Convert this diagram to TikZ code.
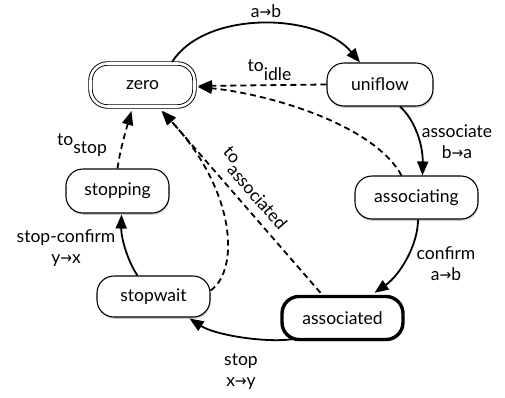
\documentclass[tikz,border=0pt]{standalone}
\usepackage{fontspec}
\setmainfont{Lato}
\newfontfamily\dvfont{DejaVu Sans}
\usetikzlibrary{arrows.meta,shadows,calc}
\newcommand\rarr{{\dvfont\scalebox{0.8}[0.9]{→}}}
\newcommand\lowsub[2]{#1\raisebox{-0.5em}{#2}}
\tikzset{
  st/.style={draw, line width=1.1pt, rounded corners=17pt, fill=white,
    minimum height=43pt, inner sep=0pt, font=\fontsize{17.5}{20}\selectfont,
    drop shadow={shadow xshift=0.6pt, shadow yshift=-1.8pt, opacity=0.35, fill=black!60}},
  lbl/.style={font=\fontsize{17.5}{21}\selectfont, inner sep=0pt, align=center},
  sol/.style={line width=1.8pt, -{Triangle[length=14pt,width=11pt]}},
  dsh/.style={line width=1.8pt, dash pattern=on 6pt off 4pt, -{Triangle[length=14pt,width=11pt]}}
}
\begin{document}
\begin{tikzpicture}[x=1pt,y=-1pt]
\useasboundingbox (0,0) rectangle (505,397);
% nodes
\node[st, minimum width=104pt, double, double distance=2.6pt, line width=0.9pt] (zero) at (142.5,85) {zero};
\node[st, minimum width=106pt] (uniflow) at (380,84.5) {uniflow};
\node[st, minimum width=123pt] (associating) at (416.5,197.5) {associating};
\node[st, minimum width=121pt, line width=3.4pt] (associated) at (342.5,318) {associated};
\node[st, minimum width=113pt, minimum height=41pt] (stopwait) at (153.5,296.5) {stopwait};
\node[st, minimum width=103pt, minimum height=44pt] (stopping) at (117.5,191) {stopping};
% label nodes
\node[lbl] (lab) at (266,11) {a\rarr b};
\node[lbl] (lidle) at (269.5,70) {\lowsub{to}{idle}};
\node[lbl] (lassoc) at (457,142) {associate\\b\rarr a};
\node[lbl] (lconf) at (446,264) {confirm\\a\rarr b};
\node[lbl] (lstop) at (241,372) {stop\\x\rarr y};
\node[lbl] (lsc) at (66,248) {stop-confirm\\y\rarr x};
\node[lbl] (lts) at (82,145) {\lowsub{to}{stop}};
\node[lbl, rotate=-49] (lta) at (255,188) {\lowsub{to}{associated}};
% edges
\draw[sol] ($(zero.north)+(29.5,-1)$) .. controls (205,10) and (318,12) .. ($(uniflow.north)+(-20,0)$);
\draw[dsh] (uniflow.west) -- ($(zero.east)+(3,1)$);
\draw[dsh] ($(associating.north)+(-15,0)$) .. controls (372,122) and (262,93) .. ($(zero.east)+(3,2)$);
\draw[sol] ($(uniflow.south)+(20,0)$) .. controls (415,120) and (423,145) .. ($(associating.north)+(6,0)$);
\draw[sol] ($(associating.south)+(1.5,0)$) .. controls (418,245) and (400,275) .. ($(associated.north)+(32,-2)$);
\draw[dsh] ($(associated.north)+(-22,-2)$) -- ($(zero.south)+(20,4)$);
\draw[dsh] ($(stopwait.east)+(0,-6)$) .. controls (240,270) and (236,190) .. ($(zero.south)+(19,4)$);
\draw[sol] ($(associated.south west)+(12,-2)$) .. controls (265,343) and (215,335) .. ($(stopwait.south east)+(-21,1)$);
\draw[sol] ($(stopwait.north)+(-16,0)$) .. controls (128,262) and (121,238) .. ($(stopping.south)+(4,1)$);
\draw[dsh] (stopping.north) .. controls (120,150) and (126,130) .. ($(zero.south)+(-11,4)$);
\end{tikzpicture}
\end{document}
